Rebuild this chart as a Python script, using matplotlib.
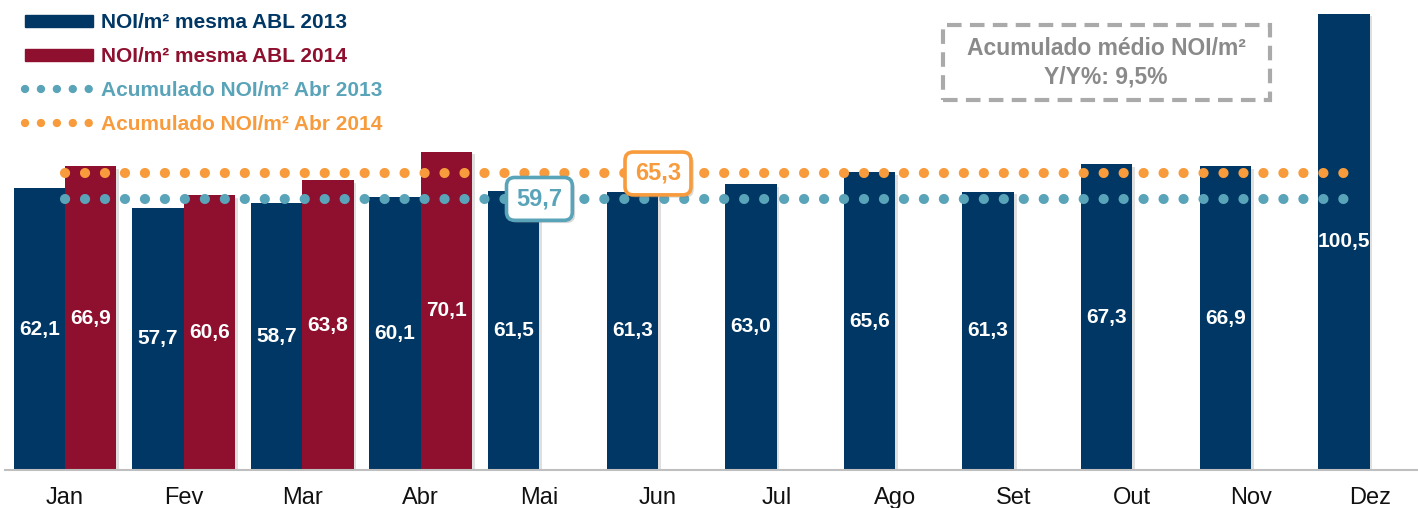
import numpy as np
import matplotlib
matplotlib.use('Agg')
import matplotlib.pyplot as plt
from matplotlib.patches import Patch, Rectangle
from matplotlib.lines import Line2D
import matplotlib.patheffects as pe

# --- dados ---
meses = ['Jan', 'Fev', 'Mar', 'Abr', 'Mai', 'Jun', 'Jul', 'Ago', 'Set', 'Out', 'Nov', 'Dez']
noi_2013 = [62.1, 57.7, 58.7, 60.1, 61.5, 61.3, 63.0, 65.6, 61.3, 67.3, 66.9, 100.5]
noi_2014 = [66.9, 60.6, 63.8, 70.1]
acum_2013 = 59.7
acum_2014 = 65.3
yy_texto = 'Acumulado médio NOI/m²\nY/Y%: 9,5%'

cor_2013 = '#003764'
cor_2014 = '#8E102E'
cor_ac13 = '#5AA4BA'
cor_ac14 = '#F79B3C'

plt.rcParams['font.family'] = ['Liberation Sans', 'DejaVu Sans']

fig = plt.figure(figsize=(14.18, 5.08), dpi=100)
ax = fig.add_axes([0, 38 / 508, 1, 470 / 508])

x = np.arange(len(meses))
w = 0.434
sombra = [pe.SimplePatchShadow(offset=(2, -2), alpha=0.25, shadow_rgbFace='gray'), pe.Normal()]

b13 = ax.bar(x - w / 2, noi_2013, width=w, color=cor_2013, zorder=2)
b14 = ax.bar(x[:len(noi_2014)] + w / 2, noi_2014, width=w, color=cor_2014, zorder=2)
for b in list(b13) + list(b14):
    b.set_path_effects(sombra)

for xi, v in zip(x - w / 2, noi_2013):
    ax.text(xi, v / 2, f'{v:.1f}'.replace('.', ','), ha='center', va='center',
            color='white', fontsize=15, fontweight='bold', zorder=4)
for xi, v in zip(x[:len(noi_2014)] + w / 2, noi_2014):
    ax.text(xi, v / 2, f'{v:.1f}'.replace('.', ','), ha='center', va='center',
            color='white', fontsize=15, fontweight='bold', zorder=4)

# linhas pontilhadas de acumulado
xl = [x[0], x[-1] - w / 2 + 0.08]
for val, cor in [(acum_2013, cor_ac13), (acum_2014, cor_ac14)]:
    ax.plot(xl, [val, val], color=cor, lw=7.3, linestyle=(0, (0.01, 1.96)),
            dash_capstyle='round', zorder=3)

# caixas de valor
for xi, val, cor in [(4, acum_2013, cor_ac13), (5, acum_2014, cor_ac14)]:
    t = ax.text(xi, val, f'{val:.1f}'.replace('.', ','), ha='center', va='center',
                color=cor, fontsize=17, fontweight='bold', zorder=5,
                bbox=dict(boxstyle='round,pad=0.42,rounding_size=0.35', fc='white',
                          ec=cor, lw=2.6))
    t.get_bbox_patch().set_path_effects(
        [pe.SimplePatchShadow(offset=(2, -2), alpha=0.3, shadow_rgbFace='gray'), pe.Normal()])

# caixa cinza tracejada
ret = Rectangle((943 / 1418, 1 - 100 / 508), 327 / 1418, 75 / 508, transform=fig.transFigure,
                fill=False, ec='#AAAAAA', lw=3, linestyle=(0, (3.5, 2)), zorder=5)
fig.add_artist(ret)
fig.text(1106 / 1418, 1 - 63 / 508, yy_texto, ha='center', va='center', color='#8A8A8A',
         fontsize=16.5, fontweight='bold', linespacing=1.3)

# eixos
ax.set_xlim(-65 / 118.6, (1418 - 65) / 118.6)
ax.set_ylim(0, 103.5)
ax.set_xticks(x)
ax.set_xticklabels(meses, fontsize=17, color='#111111')
ax.tick_params(axis='x', length=0, pad=12)
ax.set_yticks([])
for s in ['top', 'right', 'left']:
    ax.spines[s].set_visible(False)
ax.spines['bottom'].set_color('#BFBFBF')
ax.spines['bottom'].set_linewidth(1.5)
ax.spines['bottom'].set_bounds(-60 / 118.6, (1418 - 65) / 118.6)

# legenda
handles = [
    Patch(color=cor_2013),
    Patch(color=cor_2014),
    Line2D([0], [0], color=cor_ac13, lw=6, linestyle=(0, (0.01, 1.9)), dash_capstyle='round'),
    Line2D([0], [0], color=cor_ac14, lw=6, linestyle=(0, (0.01, 1.9)), dash_capstyle='round'),
]
labels = ['NOI/m² mesma ABL 2013', 'NOI/m² mesma ABL 2014',
          'Acumulado NOI/m² Abr 2013', 'Acumulado NOI/m² Abr 2014']
leg = fig.legend(handles, labels, loc='upper left', bbox_to_anchor=(25 / 1418, 1 - 13 / 508),
                 frameon=False, borderpad=0, borderaxespad=0, handlelength=3.25,
                 handleheight=0.52, handletextpad=0.4, labelspacing=0.72,
                 prop={'size': 15, 'weight': 'bold'})
for txt, cor in zip(leg.get_texts(), [cor_2013, cor_2014, cor_ac13, cor_ac14]):
    txt.set_color(cor)

fig.savefig('out.png', dpi=100)
